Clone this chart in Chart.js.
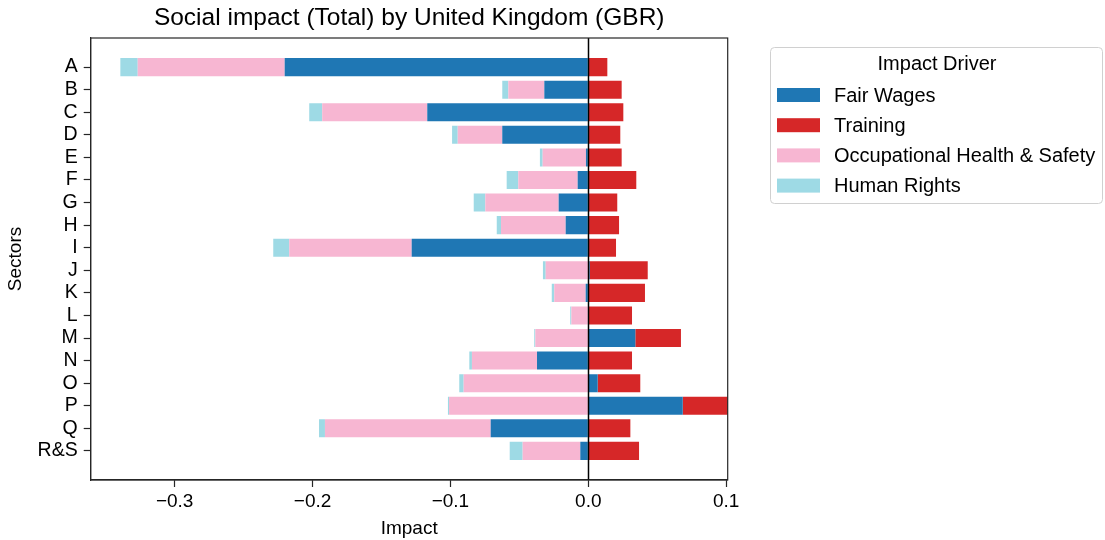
<!DOCTYPE html>
<html>
<head>
<meta charset="utf-8">
<script src="https://cdn.jsdelivr.net/npm/chart.js@4/dist/chart.umd.min.js"></script>
<style>
  html, body { margin: 0; padding: 0; background: #fff; }
  #wrap { width: 1105px; height: 540px; }
</style>
</head>
<body>
<div id="wrap"><canvas id="c" width="1105" height="540"></canvas></div>
<script>
// Sectors, top to bottom
const sectors = ['A', 'B', 'C', 'D', 'E', 'F', 'G', 'H', 'I', 'J', 'K', 'L', 'M', 'N', 'O', 'P', 'Q', 'R&S'];

// Impact per driver and sector
const fairWages   = [-0.2202, -0.0319, -0.1168, -0.0624, -0.0017, -0.0077, -0.0215, -0.0164, -0.1281,  0.0010, -0.0019,  0.0000,  0.0341, -0.0372,  0.0068,  0.0685, -0.0708, -0.0058];
const training    = [ 0.0138,  0.0242,  0.0254,  0.0232,  0.0242,  0.0348,  0.0210,  0.0223,  0.0201,  0.0421,  0.0411,  0.0317,  0.0331,  0.0317,  0.0309,  0.0330,  0.0305,  0.0368];
const ohs         = [-0.1066, -0.0261, -0.0762, -0.0323, -0.0314, -0.0431, -0.0532, -0.0469, -0.0888, -0.0309, -0.0228, -0.0123, -0.0384, -0.0472, -0.0904, -0.1010, -0.1202, -0.0418];
const humanRights = [-0.0126, -0.0044, -0.0094, -0.0041, -0.0020, -0.0084, -0.0084, -0.0031, -0.0116, -0.0020, -0.0018, -0.0008, -0.0008, -0.0019, -0.0032, -0.0008, -0.0043, -0.0094];

// Axis ticks
const impactTicks = [-0.3, -0.2, -0.1, 0.0, 0.1];

const drivers = [
  { label: 'Fair Wages', values: fairWages, color: '#1f77b4' },
  { label: 'Training', values: training, color: '#d62728' },
  { label: 'Occupational Health & Safety', values: ohs, color: '#f7b6d2' },
  { label: 'Human Rights', values: humanRights, color: '#9edae5' }
];

const FONT = '"Liberation Sans", Arial, Helvetica, sans-serif';
const INK = '#000';
const AXIS = '#262626';

const datasets = drivers.map(d => ({
  label: d.label,
  data: d.values.map((v, i) => ({ x: v, y: i })),
  backgroundColor: d.color,
  borderWidth: 0,
  barPercentage: 0.8,
  categoryPercentage: 1.0
}));

const fmt = v => {
  const s = Math.abs(v).toFixed(1);
  return (v < -1e-9 ? '\u2212' : '') + s;
};

// Spines around the plot plus the vertical line at zero
const framePlugin = {
  id: 'frame',
  afterDatasetsDraw(chart) {
    const { ctx, chartArea: a, scales } = chart;
    ctx.save();
    const x0 = Math.round(scales.x.getPixelForValue(0)) + 0.5;
    ctx.strokeStyle = '#000';
    ctx.lineWidth = 1.5;
    ctx.beginPath();
    ctx.moveTo(x0, a.top);
    ctx.lineTo(x0, a.bottom);
    ctx.stroke();
    ctx.strokeStyle = AXIS;
    ctx.lineWidth = 1.2;
    ctx.strokeRect(a.left, a.top, a.right - a.left, a.bottom - a.top);
    ctx.restore();
  }
};

// Boxed legend to the right of the plot
const boxLegendPlugin = {
  id: 'boxLegend',
  afterDraw(chart) {
    const { ctx } = chart;
    const bx = 770.5, by = 47.5, bw = 332, bh = 156, r = 4;
    ctx.save();
    ctx.fillStyle = 'rgba(255,255,255,0.8)';
    ctx.strokeStyle = '#d0d0d0';
    ctx.lineWidth = 1;
    ctx.beginPath();
    ctx.moveTo(bx + r, by);
    ctx.lineTo(bx + bw - r, by);
    ctx.arcTo(bx + bw, by, bx + bw, by + r, r);
    ctx.lineTo(bx + bw, by + bh - r);
    ctx.arcTo(bx + bw, by + bh, bx + bw - r, by + bh, r);
    ctx.lineTo(bx + r, by + bh);
    ctx.arcTo(bx, by + bh, bx, by + bh - r, r);
    ctx.lineTo(bx, by + r);
    ctx.arcTo(bx, by, bx + r, by, r);
    ctx.closePath();
    ctx.fill();
    ctx.stroke();

    ctx.fillStyle = INK;
    ctx.font = '20px ' + FONT;
    ctx.textBaseline = 'middle';
    ctx.textAlign = 'center';
    ctx.fillText('Impact Driver', 937, 64);

    ctx.textAlign = 'left';
    chart.data.datasets.forEach((ds, i) => {
      const cy = 95 + i * 30.2;
      ctx.fillStyle = ds.backgroundColor;
      ctx.fillRect(777, cy - 7, 43, 14);
      ctx.fillStyle = INK;
      ctx.fillText(ds.label, 834, cy + 1);
    });
    ctx.restore();
  }
};

new Chart(document.getElementById('c'), {
  type: 'bar',
  data: { datasets },
  options: {
    indexAxis: 'y',
    responsive: false,
    animation: false,
    devicePixelRatio: 1,
    layout: { padding: { left: 4, right: 377.3, top: 0, bottom: 0 } },
    plugins: {
      legend: { display: false },
      tooltip: { enabled: false },
      title: {
        display: true,
        text: 'Social impact (Total) by United Kingdom (GBR)',
        fullSize: false,
        color: INK,
        font: { family: FONT, size: 24.5, weight: 'normal' },
        padding: { top: 4, bottom: 4.6 }
      }
    },
    scales: {
      x: {
        type: 'linear',
        stacked: true,
        min: -0.3609,
        max: 0.1011,
        afterBuildTicks(scale) { scale.ticks = impactTicks.map(v => ({ value: v })); },
        afterFit(scale) { scale.height = 60; },
        ticks: {
          color: INK,
          font: { family: FONT, size: 19 },
          padding: 3,
          maxRotation: 0,
          callback: v => fmt(v)
        },
        grid: { drawOnChartArea: false, drawTicks: true, tickLength: 7, tickColor: AXIS, tickWidth: 1.2 },
        border: { display: true, color: AXIS, width: 1.2 },
        title: {
          display: true,
          text: 'Impact',
          color: INK,
          font: { family: FONT, size: 19 },
          padding: { top: 3, bottom: 0 }
        }
      },
      y: {
        type: 'linear',
        stacked: true,
        reverse: true,
        offset: false,
        min: -1.29,
        max: sectors.length - 1 + 1.29,
        afterBuildTicks(scale) { scale.ticks = sectors.map((_, i) => ({ value: i })); },
        afterFit(scale) { scale.width = 86.7; },
        ticks: {
          color: INK,
          font: { family: FONT, size: 19.5 },
          padding: 6,
          autoSkip: false,
          callback: v => sectors[v]
        },
        grid: { offset: false, drawOnChartArea: false, drawTicks: true, tickLength: 7, tickColor: AXIS, tickWidth: 1.2 },
        border: { display: true, color: AXIS, width: 1.2 },
        title: {
          display: true,
          text: 'Sectors',
          color: INK,
          font: { family: FONT, size: 19 },
          padding: { top: 0, bottom: 2 }
        }
      }
    }
  },
  plugins: [framePlugin, boxLegendPlugin]
});
</script>
</body>
</html>
